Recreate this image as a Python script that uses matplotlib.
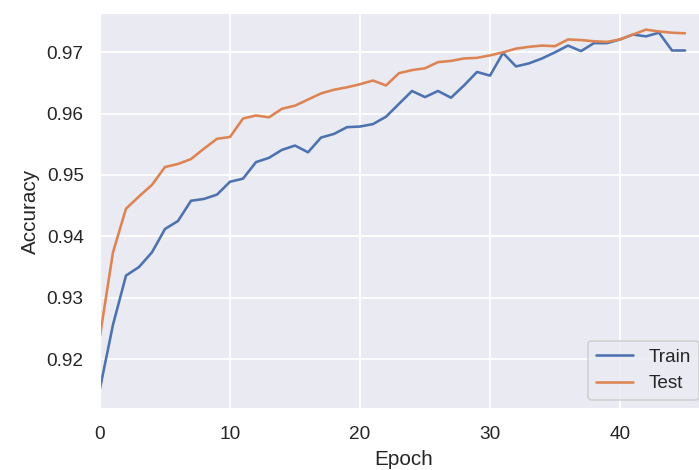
# Train / test accuracy per epoch

import numpy as np
import matplotlib
matplotlib.use("Agg")
import matplotlib.pyplot as plt
import seaborn as sns

epochs = list(range(46))

train_acc = [0.9152, 0.9256, 0.9336, 0.9350, 0.9374, 0.9412, 0.9425, 0.9458, 0.9461, 0.9468,
             0.9489, 0.9494, 0.9521, 0.9528, 0.9541, 0.9548, 0.9537, 0.9561, 0.9567, 0.9578,
             0.9579, 0.9583, 0.9595, 0.9616, 0.9637, 0.9627, 0.9637, 0.9626, 0.9646, 0.9668,
             0.9662, 0.9699, 0.9677, 0.9682, 0.9690, 0.9700, 0.9711, 0.9702, 0.9715, 0.9715,
             0.9721, 0.9729, 0.9726, 0.9732, 0.9703, 0.9703]

test_acc = [0.9238, 0.9374, 0.9445, 0.9465, 0.9484, 0.9513, 0.9518, 0.9526, 0.9543, 0.9559,
            0.9562, 0.9592, 0.9597, 0.9594, 0.9608, 0.9613, 0.9623, 0.9633, 0.9639, 0.9643,
            0.9648, 0.9654, 0.9646, 0.9666, 0.9671, 0.9674, 0.9684, 0.9686, 0.9690, 0.9691,
            0.9695, 0.9700, 0.9706, 0.9709, 0.9711, 0.9710, 0.9721, 0.9720, 0.9718, 0.9717,
            0.9721, 0.9729, 0.9737, 0.9734, 0.9732, 0.9731]

sns.set_theme(style="darkgrid", context="notebook")
plt.rcParams['font.family'] = ['Liberation Sans', 'DejaVu Sans']

DPI = 124
fig = plt.figure(figsize=(699 / DPI, 470 / DPI), dpi=DPI)
# the original picture is cropped on the right, so the axes run past the edge
ax = fig.add_axes([100 / 699, 60.7 / 470, 608 / 699, 396.6 / 470])

ax.plot(epochs, train_acc, label="Train")
ax.plot(epochs, test_acc, label="Test")
ax.set_xlim(0, 608 / 13)
ax.set_ylim(0.9118, 0.97646)
ax.set_xlabel("Epoch")
ax.set_ylabel("Accuracy")
ax.legend(loc="lower right")

fig.savefig("out.png", dpi=DPI)
